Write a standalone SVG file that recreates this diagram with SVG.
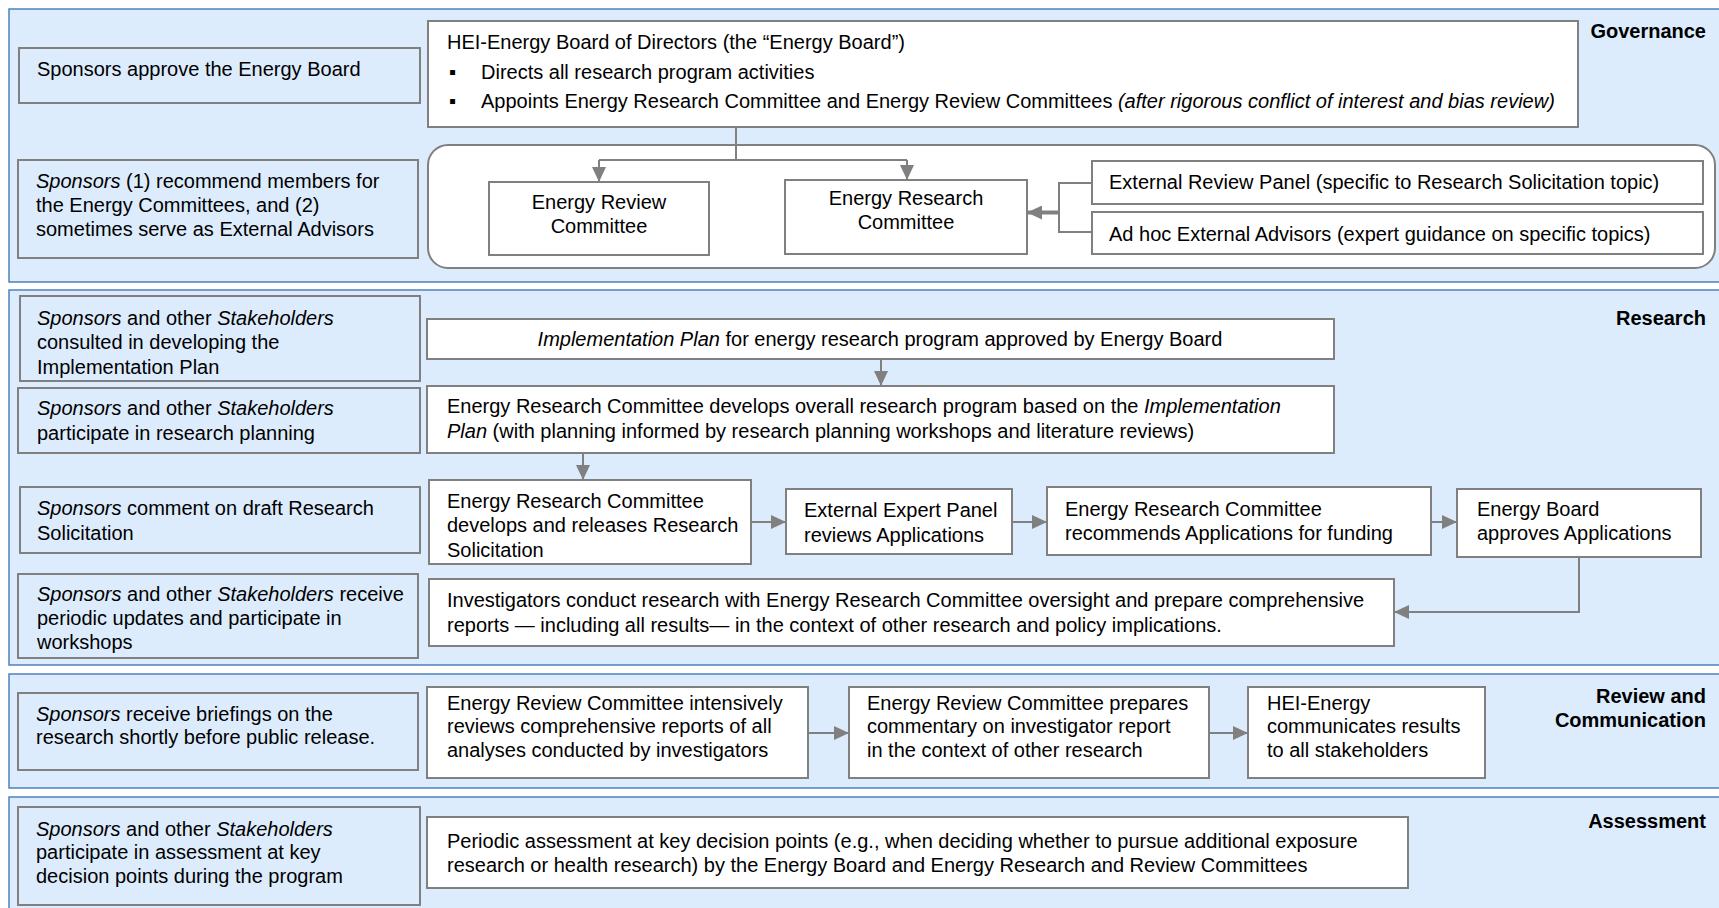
<svg xmlns="http://www.w3.org/2000/svg" width="1719" height="908" viewBox="0 0 1719 908">
<defs>
<style>
.panel{fill:#dcecfd;stroke:#4f81bd;stroke-width:1.5}
.sp{fill:#dcecfd;stroke:#808080;stroke-width:2}
.bx{fill:#ffffff;stroke:#808080;stroke-width:2}
text{font-family:"Liberation Sans",Arial,"DejaVu Sans",sans-serif;font-size:20px;fill:#000}
.lbl{font-weight:bold;text-anchor:end}
.c{text-anchor:middle}
.i{font-style:italic}
.ln{fill:none;stroke:#808080;stroke-width:2}
.thick{fill:none;stroke:#808080;stroke-width:4}
</style>
<marker id="ah" markerUnits="userSpaceOnUse" markerWidth="15" markerHeight="14" refX="15" refY="7" orient="auto">
<path d="M0,0 L15,7 L0,14 z" fill="#808080"/>
</marker>
</defs>

<g id="panels">
<rect class="panel" x="9" y="9" width="1730" height="273"/>
<rect class="panel" x="9" y="290" width="1730" height="375"/>
<rect class="panel" x="9" y="674" width="1730" height="114"/>
<rect class="panel" x="9" y="797" width="1730" height="130"/>
<text class="lbl" x="1706" y="38">Governance</text>
<text class="lbl" x="1706" y="325">Research</text>
<text class="lbl" x="1706" y="703">Review and</text>
<text class="lbl" x="1706" y="727">Communication</text>
<text class="lbl" x="1706" y="828">Assessment</text>
</g>

<g id="gov-sponsors-board">
<rect class="sp" x="19" y="48" width="401" height="55"/>
<text x="37" y="76">Sponsors approve the Energy Board</text>
</g>
<g id="gov-sponsors-committees">
<rect class="sp" x="18" y="160" width="400" height="98"/>
<text x="36" y="188"><tspan class="i">Sponsors</tspan> (1) recommend members for</text>
<text x="36" y="212">the Energy Committees, and (2)</text>
<text x="36" y="236">sometimes serve as External Advisors</text>
</g>
<g id="energy-board">
<rect class="bx" x="428" y="21" width="1150" height="106"/>
<text x="447" y="49">HEI-Energy Board of Directors (the “Energy Board”)</text>
<text x="449" y="79">▪</text>
<text x="481" y="79">Directs all research program activities</text>
<text x="449" y="108">▪</text>
<text x="481" y="108">Appoints Energy Research Committee and Energy Review Committees <tspan class="i">(after rigorous conflict of interest and bias review)</tspan></text>
</g>
<g id="committees-group">
<rect class="bx" x="428" y="145" width="1287" height="123" rx="20" ry="20"/>
</g>
<g id="energy-review-committee">
<rect class="bx" x="489" y="182" width="220" height="73"/>
<text class="c" x="599" y="209">Energy Review</text>
<text class="c" x="599" y="233">Committee</text>
</g>
<g id="energy-research-committee">
<rect class="bx" x="785" y="180" width="242" height="74"/>
<text class="c" x="906" y="205">Energy Research</text>
<text class="c" x="906" y="229">Committee</text>
</g>
<g id="external-review-panel">
<rect class="bx" x="1092" y="161" width="611" height="43"/>
<text x="1109" y="189">External Review Panel (specific to Research Solicitation topic)</text>
</g>
<g id="adhoc-advisors">
<rect class="bx" x="1092" y="212" width="611" height="42"/>
<text x="1109" y="241">Ad hoc External Advisors (expert guidance on specific topics)</text>
</g>

<g id="res-sponsors-1">
<rect class="sp" x="20" y="296" width="400" height="85"/>
<text x="37" y="325"><tspan class="i">Sponsors</tspan> and other <tspan class="i">Stakeholders</tspan></text>
<text x="37" y="349">consulted in developing the</text>
<text x="37" y="374">Implementation Plan</text>
</g>
<g id="res-sponsors-2">
<rect class="sp" x="18" y="388" width="402" height="65"/>
<text x="37" y="415"><tspan class="i">Sponsors</tspan> and other <tspan class="i">Stakeholders</tspan></text>
<text x="37" y="440">participate in research planning</text>
</g>
<g id="res-sponsors-3">
<rect class="sp" x="20" y="487" width="400" height="66"/>
<text x="37" y="515"><tspan class="i">Sponsors</tspan> comment on draft Research</text>
<text x="37" y="540">Solicitation</text>
</g>
<g id="res-sponsors-4">
<rect class="sp" x="18" y="574" width="400" height="84"/>
<text x="37" y="601"><tspan class="i">Sponsors</tspan> and other <tspan class="i">Stakeholders</tspan> receive</text>
<text x="37" y="625">periodic updates and participate in</text>
<text x="37" y="649">workshops</text>
</g>
<g id="implementation-plan">
<rect class="bx" x="427" y="319" width="907" height="40"/>
<text class="c" x="880" y="346"><tspan class="i">Implementation Plan</tspan> for energy research program approved by Energy Board</text>
</g>
<g id="overall-program">
<rect class="bx" x="427" y="386" width="907" height="67"/>
<text x="447" y="413">Energy Research Committee develops overall research program based on the <tspan class="i">Implementation</tspan></text>
<text x="447" y="438"><tspan class="i">Plan</tspan> (with planning informed by research planning workshops and literature reviews)</text>
</g>
<g id="releases-solicitation">
<rect class="bx" x="429" y="480" width="322" height="84"/>
<text x="447" y="508">Energy Research Committee</text>
<text x="447" y="532">develops and releases Research</text>
<text x="447" y="557">Solicitation</text>
</g>
<g id="expert-panel">
<rect class="bx" x="786" y="489" width="226" height="65"/>
<text x="804" y="517">External Expert Panel</text>
<text x="804" y="542">reviews Applications</text>
</g>
<g id="recommends">
<rect class="bx" x="1047" y="487" width="384" height="68"/>
<text x="1065" y="516">Energy Research Committee</text>
<text x="1065" y="540">recommends Applications for funding</text>
</g>
<g id="board-approves">
<rect class="bx" x="1457" y="489" width="244" height="68"/>
<text x="1477" y="516">Energy Board</text>
<text x="1477" y="540">approves Applications</text>
</g>
<g id="investigators">
<rect class="bx" x="429" y="579" width="965" height="67"/>
<text x="447" y="607">Investigators conduct research with Energy Research Committee oversight and prepare comprehensive</text>
<text x="447" y="632">reports — including all results— in the context of other research and policy implications.</text>
</g>

<g id="rev-sponsors">
<rect class="sp" x="18" y="693" width="400" height="77"/>
<text x="36" y="721"><tspan class="i">Sponsors</tspan> receive briefings on the</text>
<text x="36" y="744">research shortly before public release.</text>
</g>
<g id="intensive-review">
<rect class="bx" x="427" y="687" width="381" height="91"/>
<text x="447" y="710">Energy Review Committee intensively</text>
<text x="447" y="733">reviews comprehensive reports of all</text>
<text x="447" y="757">analyses conducted by investigators</text>
</g>
<g id="commentary">
<rect class="bx" x="849" y="687" width="360" height="91"/>
<text x="867" y="710">Energy Review Committee prepares</text>
<text x="867" y="733">commentary on investigator report</text>
<text x="867" y="757">in the context of other research</text>
</g>
<g id="communicates">
<rect class="bx" x="1248" y="687" width="237" height="91"/>
<text x="1267" y="710">HEI-Energy</text>
<text x="1267" y="733">communicates results</text>
<text x="1267" y="757">to all stakeholders</text>
</g>

<g id="ass-sponsors">
<rect class="sp" x="18" y="807" width="402" height="98"/>
<text x="36" y="836"><tspan class="i">Sponsors</tspan> and other <tspan class="i">Stakeholders</tspan></text>
<text x="36" y="859">participate in assessment at key</text>
<text x="36" y="883">decision points during the program</text>
</g>
<g id="periodic-assessment">
<rect class="bx" x="427" y="817" width="981" height="71"/>
<text x="447" y="848">Periodic assessment at key decision points (e.g., when deciding whether to pursue additional exposure</text>
<text x="447" y="872">research or health research) by the Energy Board and Energy Research and Review Committees</text>
</g>

<g id="connectors">
<path class="ln" d="M736,127 V160"/>
<path class="ln" d="M599,160 H907"/>
<path class="ln" d="M599,160 V182" marker-end="url(#ah)"/>
<path class="ln" d="M907,160 V180" marker-end="url(#ah)"/>
<path class="ln" d="M1092,183 H1059 V232 H1092"/>
<path class="thick" d="M1059,212.5 H1027" marker-end="url(#ah)"/>
<path class="ln" d="M881,359 V386" marker-end="url(#ah)"/>
<path class="ln" d="M583,453 V480" marker-end="url(#ah)"/>
<path class="ln" d="M751,522 H786" marker-end="url(#ah)"/>
<path class="ln" d="M1012,522 H1047" marker-end="url(#ah)"/>
<path class="ln" d="M1431,522 H1457" marker-end="url(#ah)"/>
<path class="ln" d="M1579,557 V612 H1394" marker-end="url(#ah)"/>
<path class="ln" d="M808,733 H849" marker-end="url(#ah)"/>
<path class="ln" d="M1209,733 H1248" marker-end="url(#ah)"/>
</g>
</svg>
